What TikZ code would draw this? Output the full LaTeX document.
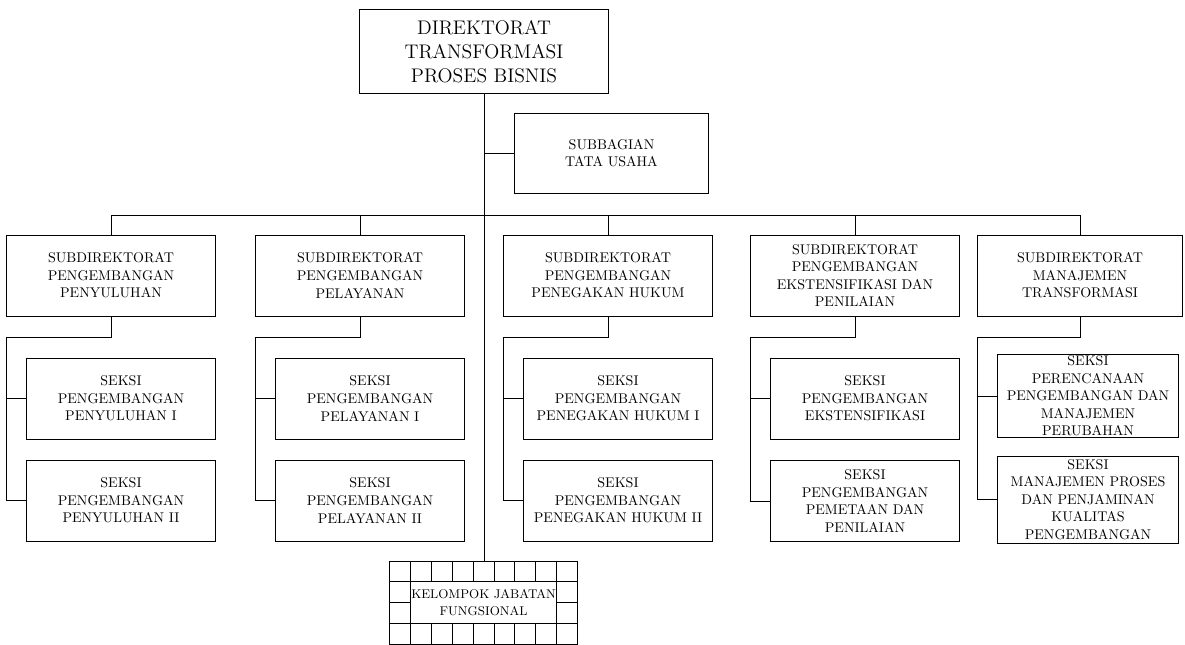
\documentclass[tikz,border=0pt]{standalone}
\usepackage{tikz}
\usetikzlibrary{positioning,calc}

\begin{document}
\begin{tikzpicture}[x=0.025cm, y=-0.025cm,
    unit/.style={draw, line width=0.7pt, align=center, inner sep=1pt,
      font=\fontsize{10}{12.5}\selectfont},
    head/.style={unit, font=\fontsize{14}{17}\selectfont,
      minimum width=6.2cm, minimum height=2.075cm},
    subdir/.style={unit, minimum width=5.2cm, minimum height=2.025cm},
    seksi/.style={unit, minimum width=4.7cm, minimum height=2.025cm},
    link/.style={line width=0.7pt}]
    \useasboundingbox (0,0) rectangle (1185,645);

    % Direktorat and Subbagian
    \node[head] (dir) at (484,51.5) {DIREKTORAT\\TRANSFORMASI\\PROSES BISNIS};
    \node[unit, minimum width=4.825cm, minimum height=2cm] (tu) at (611.5,153) {SUBBAGIAN\\TATA USAHA};

    % Subdirektorat row
    \node[subdir] (s1) at (111,275.5) {SUBDIREKTORAT\\PENGEMBANGAN\\PENYULUHAN};
    \node[subdir] (s2) at (360,275.5) {SUBDIREKTORAT\\PENGEMBANGAN\\PELAYANAN};
    \node[subdir] (s3) at (608,275.5) {SUBDIREKTORAT\\PENGEMBANGAN\\PENEGAKAN HUKUM};
    \node[subdir] (s4) at (855,275.5) {SUBDIREKTORAT\\PENGEMBANGAN\\EKSTENSIFIKASI DAN\\PENILAIAN};
    \node[subdir, minimum width=5.1cm] (s5) at (1080,275.5) {SUBDIREKTORAT\\MANAJEMEN\\TRANSFORMASI};

    % Seksi boxes
    \node[seksi] (a1) at (121,398.5) {SEKSI\\PENGEMBANGAN\\PENYULUHAN I};
    \node[seksi] (b1) at (121,500.5) {SEKSI\\PENGEMBANGAN\\PENYULUHAN II};
    \node[seksi] (a2) at (370,398.5) {SEKSI\\PENGEMBANGAN\\PELAYANAN I};
    \node[seksi] (b2) at (370,500.5) {SEKSI\\PENGEMBANGAN\\PELAYANAN II};
    \node[seksi] (a3) at (618,398.5) {SEKSI\\PENGEMBANGAN\\PENEGAKAN HUKUM I};
    \node[seksi] (b3) at (618,500.5) {SEKSI\\PENGEMBANGAN\\PENEGAKAN HUKUM II};
    \node[seksi] (a4) at (865,398.5) {SEKSI\\PENGEMBANGAN\\EKSTENSIFIKASI};
    \node[seksi] (b4) at (865,501) {SEKSI\\PENGEMBANGAN\\PEMETAAN DAN\\PENILAIAN};
    \node[seksi, minimum width=4.5cm, minimum height=2cm] (a5) at (1088,396) {SEKSI\\PERENCANAAN\\PENGEMBANGAN DAN\\MANAJEMEN\\PERUBAHAN};
    \node[seksi, minimum width=4.5cm, minimum height=2.175cm] (b5) at (1088,499.5) {SEKSI\\MANAJEMEN PROSES\\DAN PENJAMINAN\\KUALITAS\\PENGEMBANGAN};

    % Kelompok jabatan fungsional grid
    \node[draw, line width=0.7pt, inner sep=0pt, minimum width=4.68cm, minimum height=2.08cm] (kjf) at (483.6,602.6) {};
    \foreach \i in {1,...,8}
      \draw[link] ({390+\i*20.8},561) -- ({390+\i*20.8},644.2);
    \foreach \j in {1,...,3}
      \draw[link] (390,{561+\j*20.8}) -- (577.2,{561+\j*20.8});
    \node[unit, fill=white, font=\fontsize{9}{12}\selectfont, inner sep=0pt,
      minimum width=3.64cm, minimum height=1.04cm] (jf) at (483.6,602.6) {KELOMPOK JABATAN\\FUNGSIONAL};

    % Main trunk and bus
    \coordinate (bus) at (0,215);
    \draw[link] (dir.south) -- (dir.south |- kjf.north);
    \draw[link] (dir.south |- tu.west) -- (tu.west);
    \draw[link] (s1.north) -- (s1.north |- bus) -- (s5.north |- bus) -- (s5.north);
    \foreach \n in {s2,s3,s4}
      \draw[link] (\n.north) -- (\n.north |- bus);

    % Brackets to seksi boxes
    \foreach \i in {1,...,5} {
      \draw[link] (s\i.south) -- ++(0,21) -| (b\i.west -| s\i.west) -- (b\i.west);
      \draw[link] (a\i.west) -- (a\i.west -| s\i.west);
    }
\end{tikzpicture}
\end{document}
